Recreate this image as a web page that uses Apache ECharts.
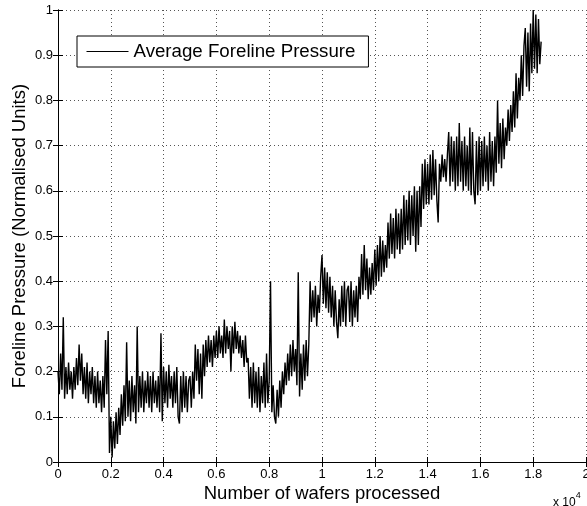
<!DOCTYPE html>
<html>
<head>
<meta charset="utf-8">
<script src="https://cdn.jsdelivr.net/npm/echarts@6/dist/echarts.min.js"></script>
<style>
html, body { margin: 0; padding: 0; background: #fff; }
#chart { width: 587px; height: 506px; }
</style>
</head>
<body>
<div id="chart"></div>
<script>
// samples every 50 wafers (one row = 1000 wafers)
const waferStep = 50;
const pressure = [
  0.20, 0.15, 0.24, 0.16, 0.32, 0.14, 0.21, 0.15, 0.22, 0.16, 0.20, 0.14, 0.21, 0.16, 0.23, 0.17, 0.26, 0.18, 0.24, 0.15,
  0.21, 0.14, 0.22, 0.13, 0.20, 0.15, 0.21, 0.13, 0.19, 0.12, 0.20, 0.13, 0.18, 0.11, 0.19, 0.12, 0.27, 0.15, 0.29, 0.02,
  0.10, 0.01, 0.09, 0.03, 0.11, 0.04, 0.12, 0.06, 0.15, 0.08, 0.17, 0.09, 0.265, 0.10, 0.18, 0.09, 0.19, 0.11, 0.17, 0.085,
  0.30, 0.11, 0.19, 0.12, 0.20, 0.11, 0.18, 0.13, 0.20, 0.12, 0.19, 0.11, 0.20, 0.13, 0.18, 0.12, 0.19, 0.11, 0.285, 0.09,
  0.21, 0.13, 0.20, 0.12, 0.215, 0.14, 0.19, 0.12, 0.20, 0.13, 0.21, 0.10, 0.085, 0.19, 0.11, 0.20, 0.12, 0.19, 0.11, 0.18,
  0.19, 0.12, 0.20, 0.14, 0.26, 0.18, 0.25, 0.15, 0.24, 0.14, 0.26, 0.19, 0.27, 0.21, 0.28, 0.22, 0.27, 0.21, 0.28, 0.23,
  0.29, 0.23, 0.30, 0.24, 0.28, 0.23, 0.315, 0.24, 0.30, 0.25, 0.29, 0.20, 0.30, 0.24, 0.31, 0.25, 0.29, 0.24, 0.28, 0.23,
  0.27, 0.21, 0.28, 0.22, 0.23, 0.14, 0.21, 0.12, 0.22, 0.13, 0.20, 0.12, 0.21, 0.11, 0.19, 0.13, 0.22, 0.12, 0.24, 0.13,
  0.18, 0.40, 0.11, 0.17, 0.10, 0.085, 0.16, 0.10, 0.18, 0.12, 0.20, 0.15, 0.22, 0.17, 0.24, 0.18, 0.26, 0.19, 0.27, 0.20,
  0.25, 0.17, 0.42, 0.145, 0.24, 0.16, 0.26, 0.18, 0.27, 0.19, 0.26, 0.40, 0.31, 0.38, 0.32, 0.39, 0.30, 0.37, 0.33, 0.41,
  0.458, 0.35, 0.43, 0.34, 0.42, 0.33, 0.41, 0.32, 0.39, 0.30, 0.38, 0.31, 0.274, 0.36, 0.30, 0.39, 0.31, 0.40, 0.30, 0.38,
  0.39, 0.31, 0.40, 0.30, 0.38, 0.32, 0.39, 0.31, 0.41, 0.36, 0.46, 0.37, 0.48, 0.38, 0.45, 0.36, 0.43, 0.37, 0.44, 0.38,
  0.47, 0.39, 0.48, 0.40, 0.50, 0.41, 0.49, 0.42, 0.48, 0.43, 0.53, 0.45, 0.55, 0.46, 0.54, 0.45, 0.56, 0.47, 0.55, 0.46,
  0.56, 0.47, 0.59, 0.48, 0.58, 0.49, 0.60, 0.48, 0.59, 0.50, 0.61, 0.465, 0.60, 0.48, 0.61, 0.52, 0.66, 0.56, 0.67, 0.57,
  0.66, 0.57, 0.68, 0.58, 0.69, 0.59, 0.67, 0.58, 0.53, 0.66, 0.62, 0.68, 0.63, 0.67, 0.62, 0.68, 0.73, 0.61, 0.72, 0.62,
  0.71, 0.60, 0.72, 0.61, 0.75, 0.62, 0.71, 0.60, 0.72, 0.61, 0.70, 0.60, 0.74, 0.59, 0.73, 0.60, 0.57, 0.71, 0.59, 0.72,
  0.60, 0.71, 0.61, 0.72, 0.62, 0.70, 0.60, 0.73, 0.62, 0.71, 0.61, 0.72, 0.64, 0.80, 0.66, 0.75, 0.65, 0.76, 0.67, 0.74,
  0.70, 0.78, 0.71, 0.79, 0.73, 0.82, 0.74, 0.86, 0.76, 0.85, 0.80, 0.90, 0.81, 0.92, 0.96, 0.83, 0.95, 0.82, 0.97, 0.86,
  1.00, 0.87, 0.99, 0.86, 0.98, 0.88, 0.93
];
const xTicks = [0, 0.2, 0.4, 0.6, 0.8, 1, 1.2, 1.4, 1.6, 1.8, 2];
const yTicks = [0, 0.1, 0.2, 0.3, 0.4, 0.5, 0.6, 0.7, 0.8, 0.9, 1];

const font = 'Liberation Sans, Arial, Helvetica, sans-serif';
const seriesData = pressure.map((v, i) => [i * waferStep, v]);

const chart = echarts.init(document.getElementById('chart'));

const tickStyle = { show: true, inside: true, length: 5, lineStyle: { color: '#000', width: 1 } };
const lineStyle = { show: true, lineStyle: { color: '#000', width: 1 } };
const gridLine = { show: true, lineStyle: { color: '#555', width: 1, type: [1, 3] } };

chart.setOption({
  animation: false,
  backgroundColor: '#fff',
  grid: { left: 58, right: 1, top: 10, bottom: 44, containLabel: false, outerBoundsMode: 'none' },
  legend: {
    left: 77, top: 36,
    data: ['Average Foreline Pressure'],
    backgroundColor: '#fff',
    borderColor: '#000', borderWidth: 1, borderRadius: 0,
    padding: [6, 13, 6, 9],
    itemWidth: 42, itemHeight: 19, itemGap: 5,
    itemStyle: { opacity: 0 },
    lineStyle: { color: '#000', width: 1 },
    textStyle: { fontFamily: font, fontSize: 18.7, color: '#000' }
  },
  xAxis: [{
    type: 'value', min: 0, max: 20000, interval: 2000,
    name: 'Number of wafers processed', nameLocation: 'middle', nameGap: 22,
    nameMoveOverlap: false,
    nameTextStyle: { fontFamily: font, fontSize: 18.5, color: '#000' },
    axisLine: lineStyle, axisTick: tickStyle, splitLine: gridLine,
    axisLabel: { fontFamily: font, fontSize: 13, color: '#000', margin: 6,
      formatter: v => String(xTicks[Math.round(v / 2000)]) }
  }, {
    type: 'value', position: 'top', min: 0, max: 20000, interval: 2000,
    axisLine: lineStyle, axisTick: tickStyle, splitLine: { show: false }, axisLabel: { show: false }
  }],
  yAxis: [{
    type: 'value', min: 0, max: 1, interval: 0.1,
    name: 'Foreline Pressure (Normalised Units)', nameLocation: 'middle', nameGap: 29,
    nameMoveOverlap: false,
    nameTextStyle: { fontFamily: font, fontSize: 18.5, color: '#000' },
    axisLine: lineStyle, axisTick: tickStyle, splitLine: gridLine,
    axisLabel: { fontFamily: font, fontSize: 13, color: '#000', margin: 5,
      formatter: v => String(yTicks[Math.round(v * 10)]) }
  }, {
    type: 'value', position: 'right', min: 0, max: 1, interval: 0.1,
    axisLine: lineStyle, axisTick: tickStyle, splitLine: { show: false }, axisLabel: { show: false }
  }],
  graphic: [{
    type: 'text', left: 553, top: 491,
    style: {
      text: '{b|x 10}{s|4}',
      rich: {
        b: { fontFamily: font, fontSize: 12, fill: '#000', verticalAlign: 'bottom', padding: [6, 0, 0, 0] },
        s: { fontFamily: font, fontSize: 9, fill: '#000', verticalAlign: 'top' }
      }
    }
  }],
  series: [{
    name: 'Average Foreline Pressure',
    type: 'line',
    data: seriesData,
    showSymbol: false, symbol: 'none',
    lineStyle: { color: '#000', width: 1.4 },
    itemStyle: { color: '#000' },
    clip: true
  }]
});
</script>
</body>
</html>
